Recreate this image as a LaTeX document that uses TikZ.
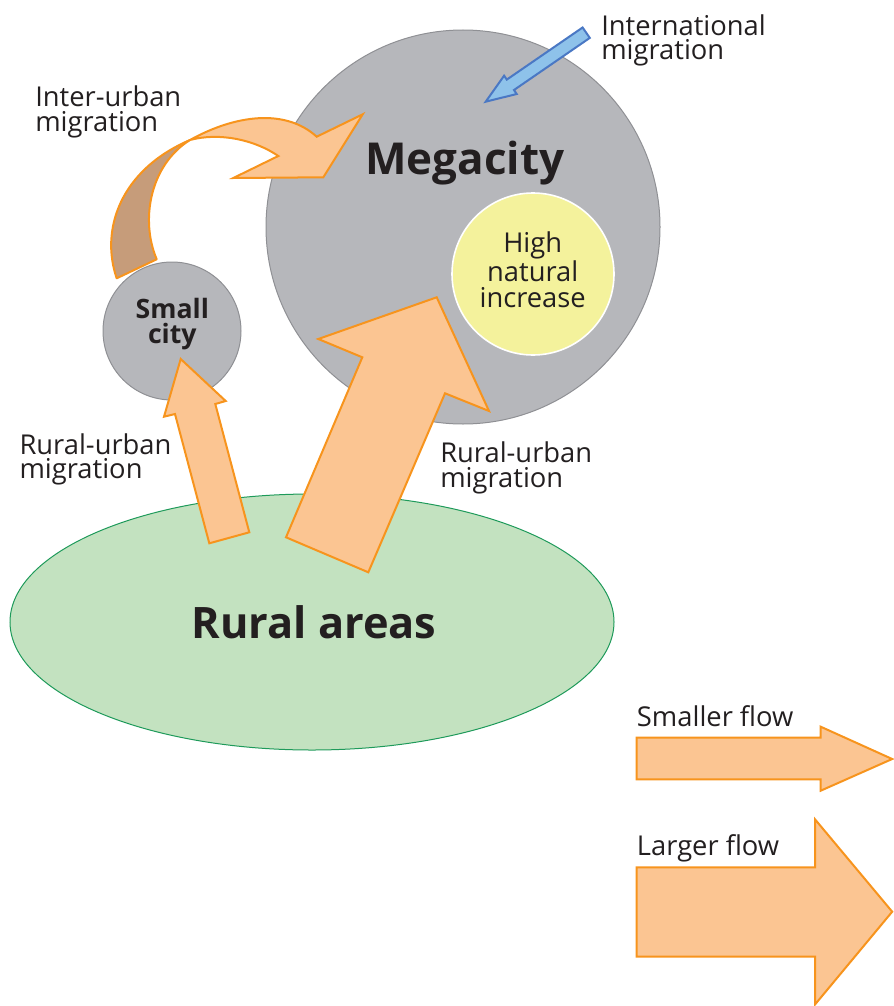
\documentclass[tikz,border=0pt]{standalone}
\usepackage{fontspec}
\setmainfont{Open Sans}
\usetikzlibrary{shapes.geometric}
\definecolor{orfill}{HTML}{FBC592}
\definecolor{orline}{HTML}{F7941D}
\definecolor{brownfill}{HTML}{C69C7A}
\definecolor{greyfill}{HTML}{B6B7BB}
\definecolor{greyline}{HTML}{8F9094}
\definecolor{yellowfill}{HTML}{F4F29C}
\definecolor{greenfill}{HTML}{C3E2C0}
\definecolor{greenline}{HTML}{1E9A5A}
\definecolor{bluefill}{HTML}{8EC2EA}
\definecolor{blueline}{HTML}{4A78C4}
\definecolor{txt}{HTML}{231F20}
\begin{document}
\begin{tikzpicture}[x=0.75pt,y=-0.75pt,
  lbl/.style={font=\fontsize{20.5}{18.2}\selectfont, text=txt, align=left, inner sep=0, anchor=base west},
  flow/.style={fill=orfill, draw=orline, line width=1.5pt, line join=miter},
  city/.style={circle, fill=greyfill, draw=greyline, line width=0.75pt, inner sep=0}]
\useasboundingbox (0,0) rectangle (893,1006);

% rural areas
\node[ellipse, fill=greenfill, draw=greenline, line width=0.75pt,
      minimum width=453pt, minimum height=192pt, inner sep=0] (rural) at (312,622) {};
\node[font=\bfseries\fontsize{32.5}{32.5}\selectfont, text=txt, inner sep=0, anchor=base] (ruraltxt) at (314,638.3) {Rural areas};

% megacity
\node[city, minimum size=295.5pt] (mega) at (463,227) {};
\node[circle, fill=yellowfill, draw=white, line width=1.2pt, minimum size=121.5pt, inner sep=0] (nat) at (533,274) {};
\node[font=\fontsize{20.5}{19.3}\selectfont, text=txt, align=center, inner sep=0, anchor=base] (nattxt) at (532.7,307.3) {High\\natural\\increase};
\node[font=\bfseries\fontsize{33}{33}\selectfont, text=txt, inner sep=0, anchor=base west] (megatxt) at (365,174) {Megacity};

% small city
\node[city, minimum size=103.5pt] (small) at (172,331) {};
\node[font=\bfseries\fontsize{20}{18.75}\selectfont, text=txt, align=center, inner sep=0, anchor=base] (smalltxt) at (172.3,343.3) {Small\\city};

% big rural-urban arrow
\draw[flow] (436.7,297.3) -- (489,411) -- (445,393.3) -- (368.3,572.3) -- (286,537.3) -- (362.3,357.3) -- (318.3,339) -- cycle;
% small rural-urban arrow
\draw[flow] (180.7,359) -- (225.7,401) -- (215.3,404) -- (249.3,532.3) -- (209.3,543.3) -- (175,414) -- (164,416.7) -- cycle;

% inter-urban curved arrow
\draw[fill=brownfill, draw=orline, line width=1.5pt, line join=round]
  (116.7,278.3) .. controls (100,230) and (120,170) .. (190,140)
  .. controls (150,165) and (140,220) .. (156.7,259.3) -- cycle;
\draw[flow]
  (190,140) .. controls (235,115) and (285,108) .. (316.7,136.7)
  -- (362.7,114.3) -- (323.3,177.3) -- (233.3,178) -- (278.3,156)
  .. controls (255,140) and (220,132) .. (190,140) -- cycle;

% international arrow
\draw[fill=bluefill, draw=blueline, line width=1.5pt, line join=miter]
  (589.8,37.9) -- (514,90) -- (516.7,94) -- (485.7,101.7) -- (504.1,75.7) -- (506.8,79.6) -- (582.6,27.5) -- cycle;

% labels (anchor = baseline of last line)
\node[lbl] (intl) at (601,60) {International\\migration};
\node[lbl] (inter) at (35,131) {Inter-urban\\migration};
\node[lbl] (ruleft) at (19.3,478.3) {Rural-urban\\migration};
\node[lbl] (ruright) at (440,487) {Rural-urban\\migration};

% legend
\node[lbl] (smallflow) at (636.7,726.7) {Smaller flow};
\draw[flow] (636.7,737.7) -- (820.7,737.7) -- (820.7,726.7) -- (892.2,759) -- (820.7,790.7) -- (820.7,779.3) -- (636.7,779.3) -- cycle;
\node[lbl] (largeflow) at (636.7,855) {Larger flow};
\draw[flow] (636.7,867.3) -- (815,867.3) -- (815,819.3) -- (892.2,911.7) -- (815,1004.5) -- (815,956.7) -- (636.7,956.7) -- cycle;
\end{tikzpicture}
\end{document}
